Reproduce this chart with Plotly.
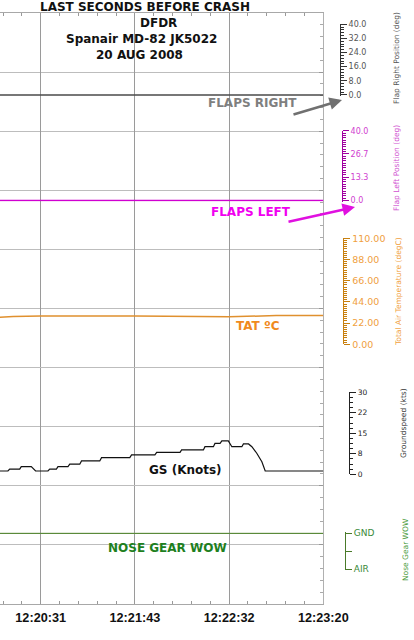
import plotly.graph_objects as go

# ---------------- data ----------------
# x is the DFDR sample index (evenly spaced on the recorder plot)
tick_samples = [20, 68, 116, 164]
tick_labels = ["12:20:31", "12:21:43", "12:22:32", "12:23:20"]

flap_right_x = [-1, 164]
flap_right_deg = [0.0, 0.0]

flap_left_x = [-1, 164]
flap_left_deg = [0.0, 0.0]

tat_x = [-1, 6, 20, 68, 116, 140, 164]
tat_degc = [28.0, 28.8, 29.3, 29.3, 28.5, 29.9, 30.0]

gs_x = [-1, 3.3, 4.2, 9.3, 10.1, 15.2, 17.4, 23.7, 24.6, 28.0, 28.8, 33.9, 34.8,
        39.9, 40.8, 50.1, 51.0, 65.4, 66.3, 78.2, 79.1, 91.0, 91.8, 102.9, 103.7,
        108.0, 108.8, 111.4, 112.3, 115.6, 117.4, 122.5, 123.3, 125.9, 127.6,
        130.1, 132.7, 134.4, 164]
gs_kts = [1.2, 1.2, 1.9, 1.9, 2.8, 2.8, 1.2, 1.2, 1.9, 1.9, 2.8, 2.8, 3.7,
          3.7, 4.9, 4.9, 6.1, 6.1, 7.1, 7.1, 8.0, 8.0, 8.9, 8.9, 10.1,
          10.1, 11.3, 11.3, 12.2, 12.2, 10.1, 10.1, 11.1, 11.1, 10.1,
          7.7, 4.6, 1.2, 1.2]

wow_x = [-1, 164]
wow_state = [1, 1]  # 1 = GND, 0 = AIR

# ---------------- figure ----------------
W, H = 414, 640
def px(x):
    return x / W
def py(y):
    return (H - y) / H

fig = go.Figure()

# background frame subplot (grid only)
fig.add_trace(go.Scatter(x=[None], y=[None], xaxis="x", yaxis="y", mode="lines",
                         hoverinfo="skip"))

fig.add_trace(go.Scatter(x=flap_right_x, y=flap_right_deg, yaxis="y2", mode="lines",
                         line=dict(color="#4a4a4a", width=1.6), hoverinfo="skip"))
fig.add_trace(go.Scatter(x=flap_left_x, y=flap_left_deg, yaxis="y3", mode="lines",
                         line=dict(color="#d000d0", width=1.5), hoverinfo="skip"))
fig.add_trace(go.Scatter(x=tat_x, y=tat_degc, yaxis="y4", mode="lines",
                         line=dict(color="#e0902e", width=1.5), hoverinfo="skip"))
fig.add_trace(go.Scatter(x=gs_x, y=gs_kts, yaxis="y5", mode="lines",
                         line=dict(color="#111111", width=1.2), hoverinfo="skip"))
fig.add_trace(go.Scatter(x=wow_x, y=wow_state, yaxis="y6", mode="lines",
                         line=dict(color="#5a8a3a", width=1.3), hoverinfo="skip"))

plot_right = px(323.3)

def data_axis(domain, rng, pos, color, tickcolor, tickvals, ticktext, minor_dtick, size):
    return dict(domain=domain, range=rng, anchor="free", position=pos, side="right",
                automargin=False,
                showgrid=False, zeroline=False, showline=True, linecolor=color, linewidth=1,
                ticks="outside", ticklen=6, tickcolor=color, tickwidth=1,
                tickmode="array", tickvals=tickvals, ticktext=ticktext,
                tickfont=dict(family="DejaVu Sans", size=size, color=tickcolor),
                minor=dict(ticks="outside", ticklen=3, tickcolor=color, dtick=minor_dtick, tick0=0,
                           showgrid=False),
                fixedrange=True)

fig.update_layout(
    width=W, height=H,
    margin=dict(l=0, r=0, t=0, b=0, autoexpand=False),
    paper_bgcolor="white", plot_bgcolor="rgba(0,0,0,0)",
    showlegend=False,
    xaxis=dict(domain=[0, plot_right], range=[-0.74, 164], anchor="y", automargin=False,
               showgrid=True, gridcolor="#9a9a9a", gridwidth=1, zeroline=False,
               showline=True, linecolor="#a8a8a8", linewidth=1, mirror="ticks",
               tickmode="array", tickvals=tick_samples, ticktext=tick_labels,
               ticks="inside", ticklen=4, tickcolor="#999",
               ticklabelstandoff=2,
               tickfont=dict(family="Liberation Sans", size=12.7, color="#111", weight="bold"),
               minor=dict(tickmode="linear", tick0=20, dtick=9.6, ticks="inside", ticklen=3,
                          tickcolor="#999", showgrid=False)),
    yaxis=dict(domain=[py(604), py(13)], range=[0, 10], side="right", anchor="x", automargin=False,
               showgrid=True, gridcolor="#bdbdbd", gridwidth=1, zeroline=False,
               showline=True, linecolor="#b0b0b0", linewidth=1,
               tickmode="linear", tick0=0, dtick=1, ticks="inside", ticklen=4, tickcolor="#999",
               showticklabels=False,
               minor=dict(tickmode="linear", tick0=0, dtick=0.2, ticks="inside", ticklen=3,
                          tickcolor="#aaa", showgrid=False)),
    yaxis2=data_axis([py(96), py(24.3)], [-0.6, 40], px(340), "#333333", "#555555",
                     [0, 8, 16, 24, 32, 40], ["0.0", "8.0", "16.0", "24.0", "32.0", "40.0"], 1.6, 8),
    yaxis3=data_axis([py(201.5), py(130.7)], [-0.6, 40], px(342), "#a000a0", "#d040d0",
                     [0, 40/3, 80/3, 40], ["0.0", "13.3", "26.7", "40.0"], 40/30, 8),
    yaxis4=data_axis([py(344.3), py(238.3)], [0, 110], px(343.3), "#c8800f", "#f0a040",
                     [0, 22, 44, 66, 88, 110], ["0.00", "22.00", "44.00", "66.00", "88.00", "110.00"], 2.2, 9.5),
    yaxis5=data_axis([py(474.3), py(392.3)], [0, 30], px(349.3), "#222222", "#222222",
                     [0, 7.5, 15, 22.5, 30], ["0", "8", "15", "22", "30"], 1.875, 7.5),
    yaxis6=data_axis([py(570.4), py(532.2)], [-0.03, 1.03], px(345), "#4a7a2a", "#3a8a3a",
                     [0, 0.5, 1], ["AIR", "", "GND"], 0.5, 9),
)

ann = []
def label(text, x, y, size, color, bold=True, family="DejaVu Sans"):
    t = f"<b>{text}</b>" if bold else text
    ann.append(dict(text=t, x=px(x), y=py(y), xref="paper", yref="paper", showarrow=False,
                    xanchor="center", yanchor="middle",
                    font=dict(family=family, size=size, color=color)))

label("LAST SECONDS BEFORE CRASH", 145, 7, 12, "#111")
label("DFDR", 158, 23, 12, "#111")
label("Spanair MD-82 JK5022", 141, 39, 12, "#111")
label("20 AUG 2008", 139, 55, 12, "#111")

label("FLAPS RIGHT", 252, 103, 12, "#7f7f7f")
label("FLAPS LEFT", 251, 212, 12, "#f000f0")
label("TAT ºC", 258, 326, 12, "#f08a1c")
label("GS (Knots)", 185, 470, 12, "#111")
label("NOSE GEAR WOW", 167, 548, 12, "#1e801e")

# axis titles (rotated)
def vtitle(text, x, y, color, size=7.5):
    ann.append(dict(text=text, x=px(x), y=py(y), xref="paper", yref="paper", showarrow=False,
                    textangle=-90, xanchor="center", yanchor="middle",
                    font=dict(family="DejaVu Sans", size=size, color=color)))

vtitle("Flap Right Position (deg)", 397, 58, "#555555")
vtitle("Flap Left Position (deg)", 397, 168, "#d050d0")
vtitle("Total Air Temperature (degC)", 398, 292, "#f0a040")
vtitle("Groundspeed (kts)", 403, 423, "#333333")
vtitle("Nose Gear WOW", 405, 550, "#4a9a3a")

# arrows
def arrow(tip, tail, color):
    ann.append(dict(text="", x=px(tip[0]), y=py(tip[1]), xref="paper", yref="paper",
                    showarrow=True, ax=tail[0] - tip[0], ay=tail[1] - tip[1],
                    arrowhead=2, arrowsize=1, arrowwidth=2.5, arrowcolor=color))

arrow((342, 100), (292, 115), "#707070")
arrow((355, 207), (287, 222), "#e010e0")

fig.update_layout(annotations=ann)

fig.write_html("out.html", config={"displayModeBar": False},
               post_script="document.body.style.margin='0px';")
